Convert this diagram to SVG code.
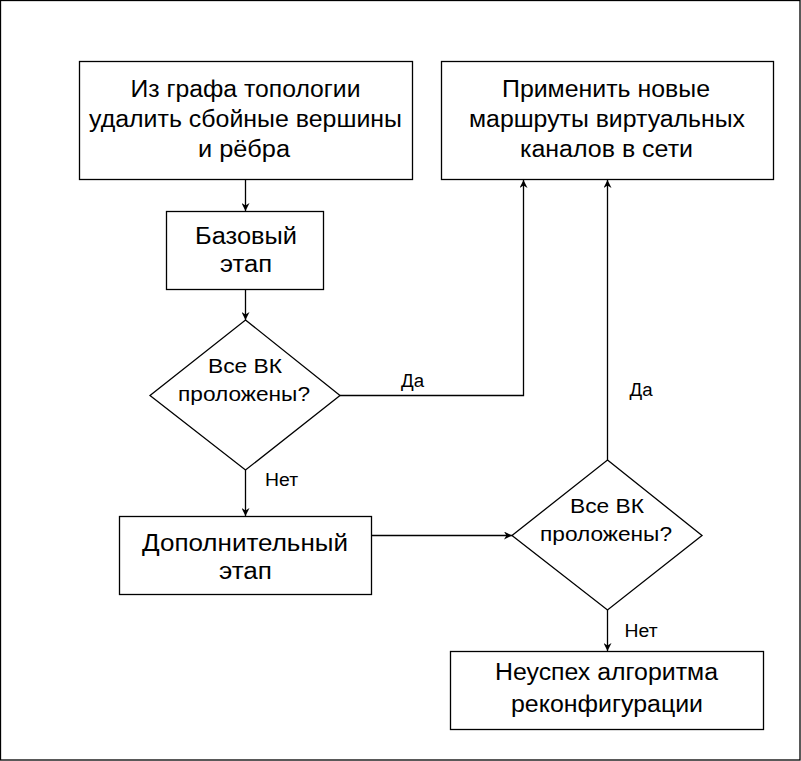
<svg xmlns="http://www.w3.org/2000/svg" width="801" height="761" viewBox="0 0 801 761">
<defs>
<marker id="arr" viewBox="0 0 10 10" refX="10" refY="5" markerWidth="8" markerHeight="8" markerUnits="userSpaceOnUse" orient="auto">
<path d="M0,0 L10,5 L0,10 L3,5 Z" fill="#000"/>
</marker>
</defs>
<style>
.box{fill:#fff;stroke:#000;stroke-width:1.3}
.t{font-family:"Liberation Sans",Arial,sans-serif;font-size:23px;fill:#000;text-anchor:middle}
.d{font-family:"Liberation Sans",Arial,sans-serif;font-size:21px;fill:#000;text-anchor:middle}
.l{font-family:"Liberation Sans",Arial,sans-serif;font-size:18px;fill:#000;text-anchor:middle}
.c{fill:none;stroke:#000;stroke-width:1.3;marker-end:url(#arr)}
</style>
<rect x="0.5" y="0.5" width="799.5" height="759.5" fill="#fff" stroke="#000" stroke-width="1.3"/>
<g id="connectors">
<path class="c" d="M245.5,180 V211"/>
<path class="c" d="M245.5,290 V320"/>
<path class="c" d="M340,395.5 H523.5 V180"/>
<path class="c" d="M245.5,470 V516"/>
<path class="c" d="M372,535.5 H512"/>
<path class="c" d="M607.5,460 V180"/>
<path class="c" d="M607.5,610 V651"/>
<text class="l" x="412.5" y="387" textLength="23" lengthAdjust="spacingAndGlyphs">Да</text>
<text class="l" x="281.5" y="486" textLength="33" lengthAdjust="spacingAndGlyphs">Нет</text>
<text class="l" x="641" y="396" textLength="23" lengthAdjust="spacingAndGlyphs">Да</text>
<text class="l" x="641" y="637" textLength="33" lengthAdjust="spacingAndGlyphs">Нет</text>
</g>
<g id="n1">
<rect class="box" x="79.5" y="61.5" width="333" height="118"/>
<text class="t" x="245.5" y="97" textLength="230" lengthAdjust="spacingAndGlyphs">Из графа топологии</text>
<text class="t" x="245.5" y="127" textLength="313" lengthAdjust="spacingAndGlyphs">удалить сбойные вершины</text>
<text class="t" x="244" y="157" textLength="92" lengthAdjust="spacingAndGlyphs">и рёбра</text>
</g>
<g id="n2">
<rect class="box" x="441.5" y="61.5" width="332" height="118"/>
<text class="t" x="606" y="97" textLength="208" lengthAdjust="spacingAndGlyphs">Применить новые</text>
<text class="t" x="607" y="127" textLength="276" lengthAdjust="spacingAndGlyphs">маршруты виртуальных</text>
<text class="t" x="606.5" y="157" textLength="173" lengthAdjust="spacingAndGlyphs">каналов в сети</text>
</g>
<g id="n3">
<rect class="box" x="166.5" y="211.5" width="157" height="78"/>
<text class="t" x="246" y="244" textLength="102" lengthAdjust="spacingAndGlyphs">Базовый</text>
<text class="t" x="246" y="272" textLength="52" lengthAdjust="spacingAndGlyphs">этап</text>
</g>
<g id="n4">
<path class="box" d="M245.5,320 L340,395.5 L245.5,470 L150,395.5 Z"/>
<text class="d" x="245" y="373" textLength="74" lengthAdjust="spacingAndGlyphs">Все ВК</text>
<text class="d" x="244" y="401" textLength="132" lengthAdjust="spacingAndGlyphs">проложены?</text>
</g>
<g id="n5">
<rect class="box" x="119.5" y="516.5" width="252" height="78"/>
<text class="t" x="245" y="551" textLength="206" lengthAdjust="spacingAndGlyphs">Дополнительный</text>
<text class="t" x="245.5" y="579" textLength="53" lengthAdjust="spacingAndGlyphs">этап</text>
</g>
<g id="n6">
<path class="box" d="M607.5,460 L702,535.5 L607.5,610 L512,535.5 Z"/>
<text class="d" x="607" y="513" textLength="74" lengthAdjust="spacingAndGlyphs">Все ВК</text>
<text class="d" x="606" y="541" textLength="132" lengthAdjust="spacingAndGlyphs">проложены?</text>
</g>
<g id="n7">
<rect class="box" x="450.5" y="651.5" width="313" height="78"/>
<text class="t" x="606.5" y="680" textLength="223" lengthAdjust="spacingAndGlyphs">Неуспех алгоритма</text>
<text class="t" x="607" y="712" textLength="192" lengthAdjust="spacingAndGlyphs">реконфигурации</text>
</g>
</svg>
